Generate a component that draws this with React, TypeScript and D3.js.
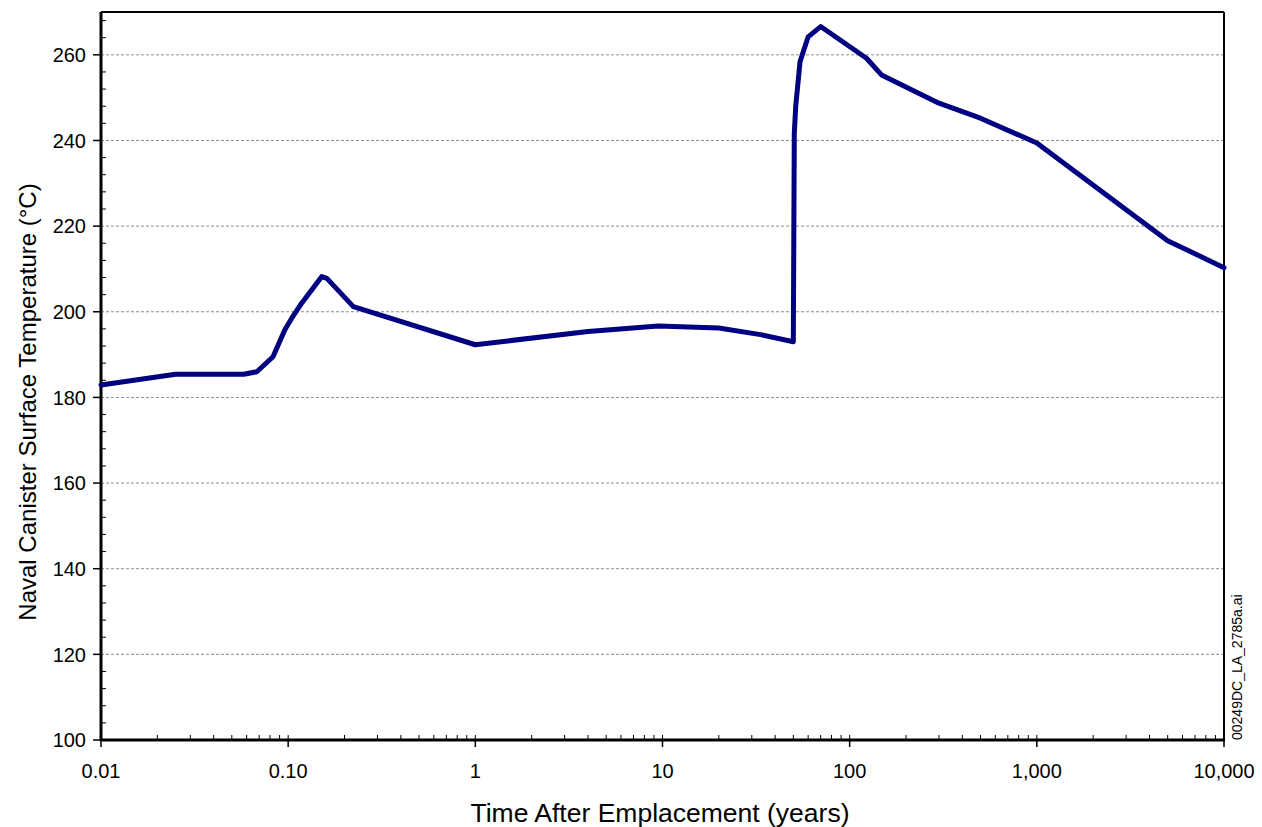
import React from "react";
import * as d3 from "d3";

// Time after emplacement (years) and naval canister surface temperature (°C)
const years: number[] = [
  0.01, 0.025, 0.058, 0.068, 0.083, 0.096, 0.1045, 0.118, 0.151, 0.161, 0.223,
  1, 4, 9.5, 20, 34, 50, 50.6, 51.5, 54.3, 60, 70, 123, 148, 300, 500, 1000,
  5000, 10000,
];
const temperatures: number[] = [
  182.9, 185.4, 185.4, 186.0, 189.5, 195.8, 198.5, 202.0, 208.2, 207.8, 201.2,
  192.3, 195.4, 196.7, 196.2, 194.6, 193.0, 241.7, 248.0, 258.4, 264.2, 266.6,
  259.2, 255.3, 248.7, 245.2, 239.4, 216.6, 210.3,
];

const xTickValues: number[] = [0.01, 0.1, 1, 10, 100, 1000, 10000];
const xTickLabels: string[] = ["0.01", "0.10", "1", "10", "100", "1,000", "10,000"];
const yTickValues: number[] = [100, 120, 140, 160, 180, 200, 220, 240, 260];

const W = 1262;
const H = 827;
const M = { left: 101, right: 1224, top: 12, bottom: 740 };
const FONT = "'Liberation Sans', Arial, sans-serif";

export default function App() {
  const x = d3.scaleLog().domain([0.01, 10000]).range([M.left, M.right]);
  const y = d3.scaleLinear().domain([100, 270]).range([M.bottom, M.top]);

  const line = d3
    .line<number>()
    .x((_, i) => x(years[i]))
    .y((d) => y(d));

  // minor ticks on x: 1..9 within each decade (inner decades included)
  const xMinor: number[] = [];
  for (let e = -2; e < 4; e++) {
    for (let k = 1; k <= 9; k++) {
      const v = k * Math.pow(10, e);
      if (v > 0.01 && v < 10000) xMinor.push(v);
    }
  }
  // minor ticks on y every 4 degrees
  const yMinor: number[] = [];
  for (let v = 104; v <= 268; v += 4) if (v % 20 !== 0) yMinor.push(v);

  return (
    <svg
      width={W}
      height={H}
      style={{ position: "absolute", left: 0, top: 0, background: "#fff" }}
      fontFamily={FONT}
    >
      {/* horizontal grid */}
      {yTickValues
        .filter((v) => v > 100)
        .map((v) => (
          <line
            key={"g" + v}
            x1={M.left}
            x2={M.right}
            y1={y(v)}
            y2={y(v)}
            stroke="#8c8c8c"
            strokeWidth={1}
            strokeDasharray="3,2"
          />
        ))}

      {/* y minor ticks (inward) */}
      {yMinor.map((v) => (
        <line key={"ym" + v} x1={M.left} x2={M.left + 5} y1={y(v)} y2={y(v)} stroke="#000" strokeWidth={1} />
      ))}
      {/* y major ticks (outward) and labels */}
      {yTickValues.map((v) => (
        <g key={"y" + v}>
          <line x1={M.left - 8} x2={M.left} y1={y(v)} y2={y(v)} stroke="#000" strokeWidth={1.5} />
          <text x={M.left - 15} y={y(v)} dy="0.36em" textAnchor="end" fontSize={20} fill="#000">
            {v}
          </text>
        </g>
      ))}

      {/* x minor ticks (inward) */}
      {xMinor.map((v) => (
        <line key={"xm" + v} x1={x(v)} x2={x(v)} y1={M.bottom} y2={M.bottom - 5} stroke="#000" strokeWidth={1} />
      ))}
      {/* x major ticks (outward) and labels */}
      {xTickValues.map((v, i) => (
        <g key={"x" + v}>
          <line x1={x(v)} x2={x(v)} y1={M.bottom} y2={M.bottom + 7} stroke="#000" strokeWidth={1.5} />
          <text x={x(v)} y={778} textAnchor="middle" fontSize={20} fill="#000">
            {xTickLabels[i]}
          </text>
        </g>
      ))}

      {/* frame */}
      <line x1={M.left} x2={M.right} y1={M.top} y2={M.top} stroke="#000" strokeWidth={2} />
      <line x1={M.right} x2={M.right} y1={M.top} y2={M.bottom} stroke="#000" strokeWidth={2} />
      <line x1={M.left} x2={M.left} y1={M.top} y2={M.bottom + 1} stroke="#000" strokeWidth={3} />
      <line x1={M.left - 1} x2={M.right + 1} y1={M.bottom} y2={M.bottom} stroke="#000" strokeWidth={3} />

      {/* temperature history */}
      <path
        d={line(temperatures) || ""}
        fill="none"
        stroke="#000080"
        strokeWidth={5}
        strokeLinejoin="round"
        strokeLinecap="round"
      />

      {/* axis titles */}
      <text x={660} y={822} textAnchor="middle" fontSize={26.5} fill="#000">
        Time After Emplacement (years)
      </text>
      <text
        transform={`translate(36, ${(M.top + M.bottom) / 2 + 26}) rotate(-90)`}
        textAnchor="middle"
        fontSize={24}
        fill="#000"
      >
        Naval Canister Surface Temperature (°C)
      </text>

      {/* drawing id */}
      <text transform={`translate(1242, 740) rotate(-90)`} textAnchor="start" fontSize={14} fill="#000">
        00249DC_LA_2785a.ai
      </text>
    </svg>
  );
}
